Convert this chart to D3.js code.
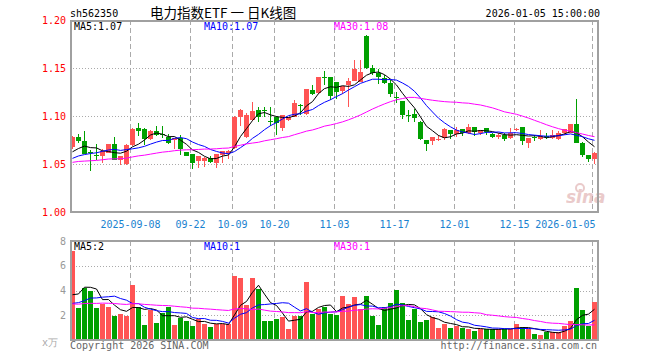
<!DOCTYPE html>
<html><head><meta charset="utf-8">
<script src="https://cdn.jsdelivr.net/npm/d3@7"></script>
<style>body{margin:0;background:#fff}svg{display:block}</style>
</head><body><svg id="c" width="660" height="360"></svg>
<script>
// ---------- data ----------
const dates = ["2025-08-25","2025-08-26","2025-08-27","2025-08-28","2025-08-29",
"2025-09-01","2025-09-02","2025-09-03","2025-09-04","2025-09-05",
"2025-09-08","2025-09-09","2025-09-10","2025-09-11","2025-09-12",
"2025-09-15","2025-09-16","2025-09-17","2025-09-18","2025-09-19",
"2025-09-22","2025-09-23","2025-09-24","2025-09-25","2025-09-26",
"2025-09-29","2025-09-30","2025-10-09","2025-10-10",
"2025-10-13","2025-10-14","2025-10-15","2025-10-16","2025-10-17",
"2025-10-20","2025-10-21","2025-10-22","2025-10-23","2025-10-24",
"2025-10-27","2025-10-28","2025-10-29","2025-10-30","2025-10-31",
"2025-11-03","2025-11-04","2025-11-05","2025-11-06","2025-11-07",
"2025-11-10","2025-11-11","2025-11-12","2025-11-13","2025-11-14",
"2025-11-17","2025-11-18","2025-11-19","2025-11-20","2025-11-21",
"2025-11-24","2025-11-25","2025-11-26","2025-11-27","2025-11-28",
"2025-12-01","2025-12-02","2025-12-03","2025-12-04","2025-12-05",
"2025-12-08","2025-12-09","2025-12-10","2025-12-11","2025-12-12",
"2025-12-15","2025-12-16","2025-12-17","2025-12-18","2025-12-19",
"2025-12-22","2025-12-23","2025-12-24","2025-12-25","2025-12-26",
"2025-12-29","2025-12-30","2025-12-31","2026-01-05"];

const open = [1.0674,1.0785,1.0740,1.0628,1.0597,1.0587,1.0618,1.0708,1.0542,1.0500,
1.0698,1.0872,1.0865,1.0757,1.0844,1.0810,1.0778,1.0750,1.0767,1.0622,
1.0600,1.0535,1.0535,1.0559,1.0514,1.0594,1.0611,1.0663,1.0993,1.0778,
1.0958,1.1063,1.1065,1.0950,1.0993,1.0872,1.0958,1.0993,1.1118,1.1020,
1.1270,1.1243,1.1410,1.1403,1.1354,1.1264,1.1323,1.1365,1.1358,1.1837,
1.1497,1.1444,1.1392,1.1347,1.1197,1.1156,1.1010,1.1017,1.0940,1.0750,
1.0743,1.0757,1.0767,1.0854,1.0813,1.0865,1.0826,1.0882,1.0826,1.0872,
1.0813,1.0778,1.0802,1.0767,1.0860,1.0882,1.0715,1.0780,1.0757,1.0788,
1.0767,1.0757,1.0826,1.0826,1.0917,1.0722,1.0594,1.0549];
const high = [1.0790,1.0809,1.0844,1.0646,1.0708,1.0653,1.0710,1.0778,1.0585,1.0710,
1.0872,1.0924,1.0870,1.0854,1.0896,1.0896,1.0809,1.0770,1.0802,1.0625,
1.0605,1.0585,1.0570,1.0583,1.0605,1.0640,1.0642,1.0997,1.1070,1.1030,
1.1150,1.1090,1.1090,1.1090,1.0995,1.1012,1.0990,1.1167,1.1125,1.1282,
1.1320,1.1405,1.1470,1.1405,1.1356,1.1315,1.1400,1.1583,1.1583,1.1844,
1.1530,1.1486,1.1427,1.1375,1.1253,1.1158,1.1063,1.1070,1.0950,1.0752,
1.0780,1.0800,1.0870,1.0856,1.0889,1.0867,1.0917,1.0884,1.0856,1.0874,
1.0826,1.0819,1.0826,1.0872,1.0880,1.0884,1.0768,1.0800,1.0854,1.0819,
1.0854,1.0847,1.0861,1.0920,1.1177,1.0724,1.0596,1.0620];
const low = [1.0660,1.0722,1.0600,1.0430,1.0542,1.0507,1.0610,1.0540,1.0490,1.0490,
1.0690,1.0792,1.0698,1.0750,1.0792,1.0767,1.0705,1.0656,1.0594,1.0580,
1.0451,1.0455,1.0472,1.0507,1.0462,1.0514,1.0549,1.0660,1.0896,1.0770,
1.0950,1.0940,1.0990,1.0896,1.0800,1.0847,1.0950,1.0990,1.1010,1.1010,
1.1220,1.1230,1.1320,1.1167,1.1174,1.1230,1.1097,1.1360,1.1355,1.1490,
1.1430,1.1333,1.1330,1.1200,1.1132,1.0965,1.0940,1.0940,1.0750,1.0639,
1.0698,1.0740,1.0750,1.0757,1.0780,1.0790,1.0812,1.0790,1.0802,1.0802,
1.0767,1.0757,1.0743,1.0757,1.0847,1.0698,1.0663,1.0743,1.0750,1.0757,
1.0757,1.0750,1.0802,1.0820,1.0715,1.0569,1.0524,1.0500];
const close = [1.0785,1.0743,1.0604,1.0611,1.0594,1.0635,1.0708,1.0542,1.0583,1.0698,
1.0865,1.0844,1.0760,1.0844,1.0802,1.0802,1.0715,1.0767,1.0656,1.0583,
1.0514,1.0583,1.0566,1.0524,1.0600,1.0639,1.0639,1.0993,1.1063,1.1010,
1.1056,1.0993,1.1060,1.0940,1.0924,1.1010,1.0986,1.1139,1.1115,1.1280,
1.1230,1.1403,1.1400,1.1208,1.1253,1.1313,1.1365,1.1486,1.1462,1.1497,
1.1444,1.1403,1.1347,1.1229,1.1194,1.1010,1.1007,1.0983,1.0757,1.0708,
1.0778,1.0760,1.0861,1.0813,1.0854,1.0820,1.0882,1.0837,1.0854,1.0837,
1.0778,1.0802,1.0760,1.0826,1.0861,1.0743,1.0767,1.0778,1.0792,1.0785,
1.0802,1.0826,1.0861,1.0917,1.0722,1.0594,1.0549,1.0618];
// volume, in units of 10,000 (万)
const volume = [7.19,2.61,4.23,3.96,2.61,2.91,2.64,1.97,2.10,1.97,
4.44,2.64,1.21,2.45,1.37,2.15,2.64,1.21,1.80,1.56,
1.16,1.70,1.29,1.08,1.29,1.29,1.29,5.17,4.97,2.86,
4.97,4.16,1.56,1.56,1.70,1.89,0.92,1.93,1.93,4.71,
2.10,2.50,2.69,2.13,2.02,3.58,2.93,3.47,2.50,3.58,
1.97,1.21,2.67,3.02,4.04,3.02,1.62,2.50,1.48,1.62,
1.83,0.97,1.29,0.97,1.16,0.97,0.89,0.73,0.89,0.89,
0.89,0.89,0.89,0.89,1.29,1.05,0.89,0.48,0.40,0.67,
0.67,0.67,1.13,1.56,4.18,2.43,1.16,3.10];
// sessions before the visible window (estimated from where the MA lines start)
const priorClose = [1.046,1.049,1.051,1.048,1.044,1.047,1.050,1.053,1.052,1.049,
1.051,1.054,1.052,1.048,1.050,1.053,1.051,1.047,1.048,1.050,
1.049,1.046,1.050,1.052,1.048,1.057,1.048,1.069,1.061];
const priorVolume = [3.2,2.5,3.6,2.8,2.2,3.0,2.6,3.4,2.9,2.4,
3.1,2.7,3.3,2.5,2.8,3.0,2.6,3.2,2.7,3.3,
2.0,2.6,1.9,2.5,2.3,2.3,1.5,4.0,3.3];

const priceTicks = [1.00,1.05,1.10,1.15,1.20];
const volTicks = [2,4,6,8];
const tickDates = ["2025-09-08","2025-09-22","2025-10-09","2025-10-20","2025-11-03","2025-11-17","2025-12-01","2025-12-15","2026-01-05"];
const tickLabels = ["2025-09-08","09-22","10-09","10-20","11-03","11-17","12-01","12-15","2026-01-05"];
const maPeriods = [5,10,30];
const maColors = ["#000000","#0000ff","#ff00ff"];

// ---------- layout ----------
const L = 70, R = 598, PT = 20, PB = 212, VT = 241, VB = 340;
const MONO = "'DejaVu Sans Mono', monospace";
const UP = "#ff5454", DOWN = "#00a000";
const svg = d3.select("#c");
const n = dates.length;
const x = d3.scaleLinear().domain([0, n]).range([L, R]);
const y = d3.scaleLinear().domain([1.0, 1.2]).range([PB, PT]);
const yv = d3.scaleLinear().domain([0, 8]).range([VB, VT]);

function ma(series, prior, p) {
  const all = prior.concat(series), off = prior.length;
  return series.map((_, i) => d3.mean(all.slice(off + i - p + 1, off + i + 1)));
}
const idx = d3.range(n);
const up = i => close[i] >= open[i];

// ---------- header ----------
svg.append("text").attr("x", 70).attr("y", 17).attr("font-family", MONO).attr("font-size", 10)
  .attr("fill", "#000").text("sh562350");
svg.append("text").attr("x", 150).attr("y", 18).attr("font-family", "'Noto Sans CJK SC', sans-serif")
  .attr("font-size", 13.5).attr("fill", "#000").text("电力指数ETF 一 日K线图");
svg.append("text").attr("x", 600).attr("y", 17).attr("text-anchor", "end").attr("font-family", MONO)
  .attr("font-size", 10).attr("fill", "#000").text("2026-01-05 15:00:00");

// ---------- grids ----------
function panel(top, bottom, yScale, hTicks) {
  const g = svg.append("g").attr("shape-rendering", "crispEdges");
  g.selectAll("line.h").data(hTicks).join("line")
    .attr("x1", L).attr("x2", R).attr("y1", d => Math.round(yScale(d)) + 0.5).attr("y2", d => Math.round(yScale(d)) + 0.5)
    .attr("stroke", "#aaa").attr("stroke-dasharray", "1,2");
  const ti = tickDates.map(d => dates.indexOf(d));
  g.selectAll("line.v").data(ti).join("line")
    .attr("x1", d => x(d) + 0.5).attr("x2", d => x(d) + 0.5).attr("y1", top).attr("y2", bottom)
    .attr("stroke", "#aaa").attr("stroke-width", 1.5).attr("stroke-dasharray", "5,3");
}
panel(PT, PB, y, [1.05, 1.10, 1.15]);
panel(VT, VB, yv, [2, 4, 6]);

// watermark
const wm = svg.append("g").attr("opacity", 0.55);
wm.append("text").attr("x", 566).attr("y", 203).attr("font-family", "'DejaVu Sans', sans-serif")
  .attr("font-style", "italic").attr("font-weight", "bold").attr("font-size", 17).attr("fill", "#d9a0a0").text("sina");
wm.append("circle").attr("cx", 580).attr("cy", 188).attr("r", 4).attr("fill", "none").attr("stroke", "#d9a0a0").attr("stroke-width", 2);

// ---------- candles ----------
const cg = svg.append("g").attr("shape-rendering", "crispEdges");
cg.selectAll("line").data(idx).join("line")
  .attr("x1", i => x(i) + 2.5).attr("x2", i => x(i) + 2.5)
  .attr("y1", i => y(high[i])).attr("y2", i => y(low[i]))
  .attr("stroke", i => up(i) ? UP : DOWN);
cg.selectAll("rect").data(idx).join("rect")
  .attr("x", i => x(i)).attr("width", 5)
  .attr("y", i => y(Math.max(open[i], close[i])))
  .attr("height", i => Math.max(1, Math.abs(y(open[i]) - y(close[i]))))
  .attr("fill", i => up(i) ? UP : DOWN);

// ---------- volume bars ----------
svg.append("g").attr("shape-rendering", "crispEdges").selectAll("rect").data(idx).join("rect")
  .attr("x", i => x(i)).attr("width", 5)
  .attr("y", i => yv(volume[i])).attr("height", i => VB - yv(volume[i]))
  .attr("fill", i => up(i) ? UP : DOWN);

// ---------- moving averages ----------
const priceMA = maPeriods.map(p => ma(close, priorClose, p));
const volMA = maPeriods.map(p => ma(volume, priorVolume, p));
const linePrice = d3.line().x((d, i) => x(i) + 2.5).y(d => y(d));
const lineVol = d3.line().x((d, i) => x(i) + 2.5).y(d => yv(d));
priceMA.forEach((s, k) => svg.append("path").attr("d", linePrice(s)).attr("fill", "none")
  .attr("stroke", maColors[k]).attr("stroke-width", 1));
volMA.forEach((s, k) => svg.append("path").attr("d", lineVol(s)).attr("fill", "none")
  .attr("stroke", maColors[k]).attr("stroke-width", 1));

// ---------- frames ----------
svg.append("rect").attr("x", 71).attr("y", PT + 1).attr("width", R - 71).attr("height", PB - PT - 1)
  .attr("fill", "none").attr("stroke", "#a0a0a0").attr("stroke-width", 2).attr("shape-rendering", "crispEdges");
svg.append("rect").attr("x", 71).attr("y", VT).attr("width", R - 71).attr("height", VB - VT)
  .attr("fill", "none").attr("stroke", "#a0a0a0").attr("stroke-width", 2).attr("shape-rendering", "crispEdges");

// ---------- axes ----------
const ay = svg.append("g").attr("transform", `translate(${L},0)`)
  .call(d3.axisLeft(y).tickValues(priceTicks).tickFormat(d3.format(".2f")).tickSize(0).tickPadding(4));
ay.select(".domain").remove();
ay.selectAll("text").attr("font-family", MONO).attr("font-size", 10).attr("fill", "#ff0000");

const av = svg.append("g").attr("transform", `translate(${L},0)`)
  .call(d3.axisLeft(yv).tickValues(volTicks).tickFormat(d3.format("d")).tickSize(0).tickPadding(4));
av.select(".domain").remove();
av.selectAll("text").attr("font-family", MONO).attr("font-size", 10).attr("fill", "#999");
svg.append("text").attr("x", 58).attr("y", 346).attr("text-anchor", "end").attr("font-family", MONO)
  .attr("font-size", 10).attr("fill", "#aaa").text("x万");

const tIdx = tickDates.map(d => dates.indexOf(d));
const ax = svg.append("g").attr("transform", `translate(0,${PB})`)
  .call(d3.axisBottom(x).tickValues(tIdx).tickFormat((d, k) => tickLabels[k]).tickSize(0).tickPadding(9));
ax.select(".domain").remove();
ax.selectAll("text").attr("font-family", MONO).attr("font-size", 10).attr("fill", "#1a82d0");
ax.selectAll(".tick").filter((d, k) => k === tIdx.length - 1).select("text")
  .attr("text-anchor", "end").attr("x", R - 3 - x(n - 1));

// ---------- MA legends ----------
const last = n - 1;
const fmtP = v => v.toFixed(2);
const legX = [74, 204, 334];
maPeriods.forEach((p, k) => {
  svg.append("text").attr("x", legX[k]).attr("y", 30).attr("font-family", MONO).attr("font-size", 10)
    .attr("fill", maColors[k]).text(`MA${p}:${fmtP(priceMA[k][last])}`);
  svg.append("text").attr("x", legX[k]).attr("y", 250).attr("font-family", MONO).attr("font-size", 10)
    .attr("fill", maColors[k]).text(`MA${p}:${Math.floor(volMA[k][last])}`);
});

// ---------- footer ----------
svg.append("text").attr("x", 70).attr("y", 349).attr("font-family", MONO).attr("font-size", 10)
  .attr("fill", "#666").text("Copyright 2026 SINA.COM");
svg.append("text").attr("x", 597).attr("y", 349).attr("text-anchor", "end").attr("font-family", MONO)
  .attr("font-size", 10).attr("fill", "#666").text("http://finance.sina.com.cn");
</script></body></html>
